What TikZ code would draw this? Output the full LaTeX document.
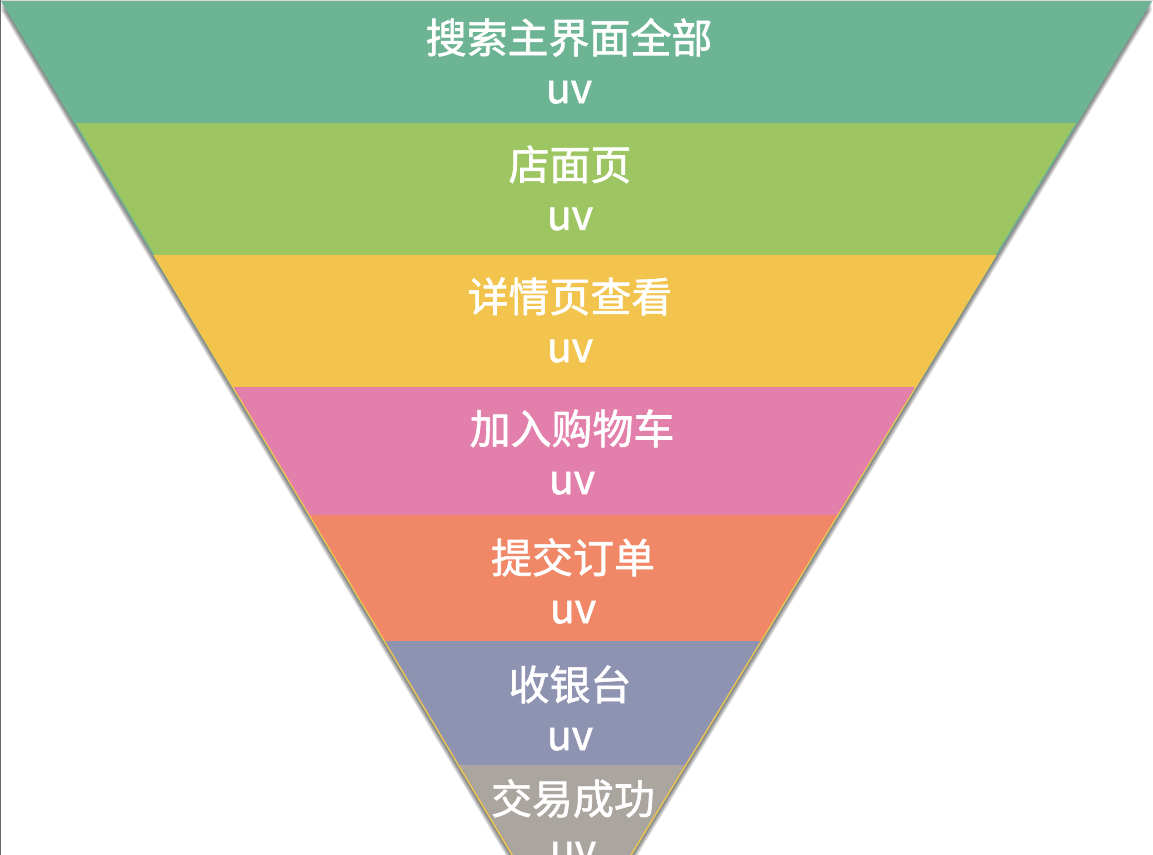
\documentclass[tikz,border=0pt]{standalone}
\usepackage{fontspec}
\usepackage{xcolor}
\usepackage{tikz}
\newfontfamily\cjk[FakeBold=1.5]{Noto Sans CJK SC}

\definecolor{searchgreen}{HTML}{6DB494}
\definecolor{shopgreen}{HTML}{9DC562}
\definecolor{detailyellow}{HTML}{F2C44D}
\definecolor{cartpink}{HTML}{E37FAB}
\definecolor{orderorange}{HTML}{F08766}
\definecolor{cashblue}{HTML}{8E93B2}
\definecolor{dealgrey}{HTML}{ABA59F}

\begin{document}
\begin{tikzpicture}[x=0.02cm,y=-0.02cm,
	bandlabel/.style={text=white,align=center,font=\cjk\fontsize{23.3}{28.5}\selectfont,inner sep=0pt}]
	\useasboundingbox (0,0) rectangle (1153,855);

	% soft shadow of the funnel
	\foreach \d in {1,...,8}
		\fill[black,opacity=0.08] (1,1+1.2*\d) -- (1152,1+1.2*\d) -- (571,955+1.2*\d) -- cycle;

	% under layers
	\fill[searchgreen] (1,1) -- (1152,1) -- (571,955) -- cycle;
	\fill[detailyellow] (1+0.597*255,255) -- (1152-0.609*255,255) -- (571,955) -- cycle;

	\begin{scope}
		\clip (3,1) -- (1150,1) -- (571,952) -- cycle;
		\fill[searchgreen] (0,0) rectangle (1153,123);
		\fill[shopgreen] (0,123) rectangle (1153,255);
		\fill[detailyellow] (0,255) rectangle (1153,387);
		\fill[cartpink] (0,387) rectangle (1153,515);
		\fill[orderorange] (0,515) rectangle (1153,641);
		\fill[cashblue] (0,641) rectangle (1153,765);
		\fill[dealgrey] (0,765) rectangle (1153,900);
	\end{scope}

	% frame lines
	\draw[black!15,line width=0.5pt] (0,0.3) -- (1153,0.3);
	\draw[black!60,line width=0.8pt] (0.4,0) -- (0.4,855);

	\node[bandlabel] (search) at (569,61) {搜索主界面全部\\uv};
	\node[bandlabel] (shop) at (570,188) {店面页\\uv};
	\node[bandlabel] (detail) at (570,320) {详情页查看\\uv};
	\node[bandlabel] (cart) at (572,452) {加入购物车\\uv};
	\node[bandlabel] (order) at (573,581) {提交订单\\uv};
	\node[bandlabel] (cash) at (570,708) {收银台\\uv};
	\node[bandlabel] (deal) at (573,822) {交易成功\\uv};
\end{tikzpicture}
\end{document}
